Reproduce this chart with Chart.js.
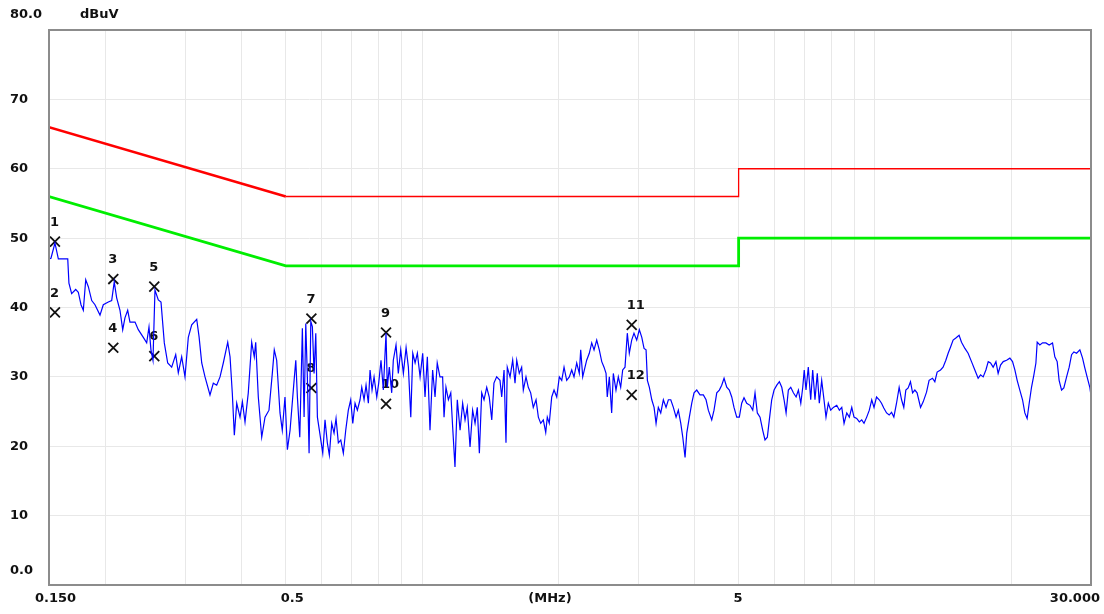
<!DOCTYPE html>
<html>
<head>
<meta charset="utf-8">
<title>Conducted emission 0.15-30 MHz</title>
<script src="https://cdn.jsdelivr.net/npm/chart.js@4/dist/chart.umd.min.js"></script>
<style>
  html, body { margin: 0; padding: 0; background: #fff; }
  #box { width: 1104px; height: 614px; position: relative; }
</style>
</head>
<body>
<div id="box"><canvas id="emission"></canvas></div>
<script>
// limit lines (QP red, AV green)
let limitMHz = [0.15, 0.5, 5, 5, 30];
let limitQpDb = [66, 56, 56, 60, 60];
let limitAvDb = [56, 46, 46, 50, 50];

// marked peaks
let markerNo = [1, 2, 3, 4, 5, 6, 7, 8, 9, 10, 11, 12];
let markerMHz = [0.1546, 0.1546, 0.208, 0.208, 0.2562, 0.2562, 0.5695, 0.5695, 0.8324, 0.8324, 2.903, 2.903];
let markerDb = [49.5, 39.3, 44.1, 34.2, 43.0, 33.0, 38.4, 28.4, 36.4, 26.1, 37.5, 27.4];

// axes
let gridMHz = [0.15, 0.2, 0.3, 0.4, 0.5, 0.6, 0.7, 0.8, 0.9, 1, 2, 3, 4, 5, 6, 7, 8, 9, 10, 20, 30];
let yTicks = [0, 10, 20, 30, 40, 50, 60, 70, 80];
let yTickLabels = ["0.0", "10", "20", "30", "40", "50", "60", "70", "80.0"];
let xTickValues = [0.15, 0.5, 1.9, 5, 30];
let xTickLabels = ["0.150", "0.5", "(MHz)", "5", "30.000"];

// sweep
let traceMHz = [
  0.150, 0.1515, 0.1546, 0.1573, 0.165, 0.166, 0.1683, 0.1718, 0.1741, 0.1765,
  0.1786, 0.1808, 0.1832, 0.1864, 0.1895, 0.1944, 0.1977, 0.2028, 0.2063, 0.209,
  0.2116, 0.2152, 0.2182, 0.2207, 0.2238, 0.2264, 0.2323, 0.2362, 0.2423, 0.2465,
  0.2494, 0.2519, 0.2545, 0.2571, 0.2615, 0.2651, 0.2696, 0.2743, 0.2799, 0.2857,
  0.2895, 0.2945, 0.2995, 0.3046, 0.3099, 0.3179, 0.3217, 0.3261, 0.3316, 0.3401,
  0.3459, 0.3519, 0.3579, 0.3639, 0.3722, 0.3766, 0.381, 0.3849, 0.3896, 0.3962,
  0.401, 0.4064, 0.4132, 0.4204, 0.426, 0.4291, 0.4348, 0.4424, 0.4499, 0.4591,
  0.4669, 0.4716, 0.4774, 0.4855, 0.4912, 0.498, 0.5041, 0.511, 0.5216, 0.5261,
  0.5304, 0.5369, 0.544, 0.5488, 0.5535, 0.558, 0.5629, 0.5678, 0.5724, 0.5774,
  0.5824, 0.5872, 0.5944, 0.6034, 0.6104, 0.6176, 0.624, 0.6316, 0.6391, 0.6456,
  0.6532, 0.6613, 0.67, 0.6782, 0.6872, 0.6956, 0.7029, 0.7111, 0.7195, 0.7294,
  0.7358, 0.7445, 0.752, 0.7609, 0.7675, 0.7753, 0.7833, 0.7941, 0.802, 0.8114,
  0.821, 0.8324, 0.8379, 0.8464, 0.8568, 0.8638, 0.8758, 0.8861, 0.897, 0.9092,
  0.9218, 0.9326, 0.9441, 0.9537, 0.965, 0.9762, 0.9898, 1.003, 1.015, 1.027,
  1.041, 1.055, 1.068, 1.080, 1.095, 1.110, 1.118, 1.129, 1.143, 1.157,
  1.168, 1.182, 1.196, 1.213, 1.229, 1.244, 1.258, 1.276, 1.293, 1.309,
  1.324, 1.338, 1.354, 1.370, 1.389, 1.407, 1.425, 1.441, 1.461, 1.486,
  1.499, 1.517, 1.532, 1.542, 1.564, 1.585, 1.604, 1.618, 1.639, 1.659,
  1.673, 1.696, 1.716, 1.737, 1.760, 1.785, 1.806, 1.828, 1.852, 1.875,
  1.890, 1.909, 1.933, 1.956, 1.983, 2.009, 2.034, 2.058, 2.086, 2.114,
  2.140, 2.165, 2.195, 2.224, 2.240, 2.263, 2.309, 2.340, 2.369, 2.397,
  2.430, 2.462, 2.493, 2.522, 2.548, 2.564, 2.591, 2.622, 2.644, 2.680,
  2.712, 2.745, 2.773, 2.806, 2.839, 2.868, 2.903, 2.937, 2.978, 3.018,
  3.056, 3.091, 3.123, 3.144, 3.176, 3.215, 3.253, 3.286, 3.324, 3.365,
  3.410, 3.457, 3.498, 3.541, 3.588, 3.638, 3.680, 3.726, 3.764, 3.808,
  3.841, 3.892, 3.940, 3.986, 4.041, 4.109, 4.179, 4.237, 4.286, 4.361,
  4.412, 4.474, 4.533, 4.588, 4.643, 4.707, 4.769, 4.828, 4.884, 4.952,
  5.018, 5.079, 5.139, 5.210, 5.299, 5.372, 5.435, 5.499, 5.575, 5.652,
  5.718, 5.786, 5.845, 5.916, 5.988, 6.071, 6.151, 6.227, 6.300, 6.365,
  6.439, 6.518, 6.605, 6.697, 6.776, 6.859, 6.928, 6.980, 7.043, 7.126,
  7.214, 7.287, 7.372, 7.459, 7.536, 7.628, 7.718, 7.797, 7.889, 7.986,
  8.094, 8.235, 8.345, 8.448, 8.547, 8.665, 8.780, 8.888, 8.990, 9.115,
  9.237, 9.350, 9.460, 9.590, 9.718, 9.838, 9.953, 10.08, 10.22, 10.34,
  10.46, 10.61, 10.75, 10.88, 11.01, 11.16, 11.31, 11.45, 11.58, 11.70,
  11.84, 11.98, 12.11, 12.25, 12.39, 12.61, 12.78, 13.00, 13.17, 13.40,
  13.56, 13.72, 13.96, 14.14, 14.34, 14.51, 14.69, 14.88, 15.09, 15.34,
  15.53, 15.80, 16.06, 16.34, 16.62, 16.90, 17.11, 17.34, 17.58, 17.79,
  18.00, 18.24, 18.50, 18.71, 18.94, 19.20, 19.53, 19.86, 20.13, 20.37,
  20.61, 20.89, 21.18, 21.43, 21.68, 21.91, 22.17, 22.44, 22.67, 22.82,
  23.13, 23.45, 23.85, 24.25, 24.67, 24.96, 25.26, 25.51, 25.83, 26.13,
  26.50, 26.85, 27.18, 27.50, 27.88, 28.35, 28.74, 29.07, 29.41, 29.82,
  30.00
];
let traceDb = [
  47.0, 47.1, 49.3, 47.0, 47.0, 43.5, 42.0, 42.6, 42.2, 40.4,
  39.6, 44.0, 43.0, 41.0, 40.4, 38.9, 40.4, 40.8, 41.0, 43.7,
  41.4, 39.6, 36.8, 38.5, 39.6, 37.9, 37.9, 36.8, 35.7, 34.9,
  37.2, 33.9, 32.4, 42.5, 41.1, 40.8, 34.9, 32.0, 31.4, 33.2,
  30.6, 32.9, 30.0, 35.7, 37.5, 38.3, 35.8, 32.0, 30.0, 27.4,
  29.1, 28.8, 30.0, 32.0, 35.0, 32.9, 27.6, 21.6, 26.2, 24.2,
  26.4, 23.5, 27.7, 35.0, 32.9, 35.0, 27.1, 21.3, 24.2, 25.2,
  30.5, 33.9, 32.4, 24.8, 22.3, 27.1, 19.5, 22.3, 29.5, 32.4,
  27.1, 21.3, 37.0, 24.2, 37.7, 30.0, 19.0, 38.0, 37.2, 30.5,
  36.3, 24.2, 21.9, 19.0, 23.8, 20.5, 18.7, 23.3, 21.9, 24.0,
  20.5, 20.9, 19.0, 22.3, 25.2, 26.7, 23.3, 26.2, 25.2, 26.7,
  28.5, 26.7, 28.8, 26.2, 31.0, 28.1, 30.0, 27.1, 29.1, 32.4,
  28.1, 36.3, 28.5, 31.4, 27.7, 32.4, 34.6, 30.5, 33.9, 30.5,
  34.2, 31.4, 24.2, 33.4, 32.0, 33.4, 30.0, 33.4, 27.1, 32.9,
  22.3, 31.0, 27.1, 32.0, 30.0, 30.0, 24.2, 28.5, 26.7, 27.7,
  22.8, 17.0, 26.7, 22.3, 26.2, 23.8, 25.6, 19.9, 25.2, 23.3,
  25.6, 19.0, 27.7, 26.7, 28.5, 27.1, 23.8, 29.1, 30.0, 29.5,
  27.1, 31.0, 20.5, 31.4, 30.0, 32.4, 29.1, 32.4, 30.5, 31.4,
  28.1, 30.0, 28.5, 27.7, 25.6, 26.7, 24.2, 23.3, 23.8, 22.0,
  24.2, 23.3, 27.1, 28.1, 27.1, 30.0, 29.5, 31.4, 29.5, 30.0,
  31.0, 30.0, 32.0, 30.5, 33.9, 30.0, 32.4, 33.4, 34.9, 33.9,
  35.3, 33.9, 32.2, 31.4, 30.5, 27.1, 30.0, 24.8, 30.5, 28.1,
  30.0, 28.5, 31.0, 31.4, 36.3, 33.4, 35.3, 36.3, 35.3, 36.8,
  35.7, 34.1, 33.9, 29.5, 28.5, 26.7, 25.6, 23.3, 25.6, 24.8,
  26.7, 25.6, 26.7, 26.7, 25.6, 24.2, 25.2, 23.3, 21.3, 18.4,
  21.9, 24.2, 26.2, 27.7, 28.1, 27.4, 27.4, 26.7, 25.2, 23.8,
  25.2, 27.7, 28.1, 28.8, 29.8, 28.5, 28.1, 27.1, 25.6, 24.2,
  24.2, 26.2, 27.0, 26.2, 25.9, 25.2, 27.7, 24.8, 24.2, 22.3,
  20.9, 21.3, 23.8, 26.7, 28.1, 28.8, 29.3, 28.5, 26.7, 24.8,
  28.1, 28.5, 27.7, 27.1, 28.1, 26.2, 28.5, 31.0, 28.1, 31.4,
  26.7, 31.0, 26.7, 30.5, 26.2, 29.5, 26.7, 24.2, 26.2, 25.2,
  25.6, 25.9, 25.2, 25.6, 23.3, 24.8, 24.2, 25.6, 24.2, 24.0,
  23.5, 23.8, 23.3, 24.2, 25.2, 26.7, 25.6, 27.1, 26.7, 26.2,
  25.5, 24.8, 24.5, 24.9, 24.2, 26.2, 28.5, 26.7, 25.6, 28.1,
  28.4, 29.3, 27.7, 28.1, 27.7, 25.6, 26.4, 27.8, 29.5, 29.8,
  29.3, 30.7, 31.0, 31.4, 32.4, 33.4, 34.3, 35.3, 35.6, 36.0,
  35.0, 34.1, 33.4, 32.2, 31.0, 29.8, 30.3, 30.0, 31.0, 32.2,
  32.0, 31.4, 32.2, 30.5, 31.7, 32.2, 32.4, 32.7, 32.2, 31.0,
  29.5, 28.1, 26.7, 24.8, 24.0, 26.2, 28.5, 30.3, 32.0, 35.0,
  34.6, 34.9, 34.9, 34.6, 34.9, 32.9, 32.2, 29.5, 28.1, 28.4,
  30.0, 31.4, 33.2, 33.6, 33.4, 33.9, 32.7, 31.3, 30.0, 28.5,
  27.3
];

function pairs(xs, ys) {
  return xs.map((x, i) => ({ x: x, y: ys[i] }));
}

const FONT = "bold 13px 'DejaVu Sans'";
const INK = "#111";

let emiText = {
  id: "emiText",
  // peak numbers go under the trace
  beforeDatasetsDraw(chart) {
    let ctx = chart.ctx;
    let sx = chart.scales.x;
    let sy = chart.scales.y;
    ctx.save();
    ctx.font = FONT;
    ctx.fillStyle = INK;
    ctx.textAlign = "left";
    ctx.textBaseline = "middle";
    markerNo.forEach((n, i) => {
      ctx.fillText(String(n), sx.getPixelForValue(markerMHz[i]) - 5, sy.getPixelForValue(markerDb[i]) - 19);
    });
    ctx.restore();
  },
  afterDraw(chart) {
    let ctx = chart.ctx;
    let a = chart.chartArea;
    let sx = chart.scales.x;
    let sy = chart.scales.y;
    ctx.save();
    ctx.strokeStyle = "#8c8c8c";
    ctx.lineWidth = 2;
    ctx.strokeRect(a.left, a.top, a.right - a.left, a.bottom - a.top);

    ctx.font = FONT;
    ctx.fillStyle = INK;
    ctx.textBaseline = "middle";
    ctx.textAlign = "left";
    yTicks.forEach((v, i) => {
      let py = sy.getPixelForValue(v);
      if (v === 80) py -= 15;
      if (v === 0) py -= 14;
      ctx.fillText(yTickLabels[i], 10, py);
    });
    ctx.fillText("dBuV", 80, a.top - 15);

    let ly = a.bottom + 14;
    xTickValues.forEach((v, i) => {
      let px = sx.getPixelForValue(v);
      let txt = xTickLabels[i];
      if (i === 0) {
        ctx.textAlign = "left";
        ctx.fillText(txt, px - 14, ly);
      } else if (i === xTickValues.length - 1) {
        ctx.textAlign = "right";
        ctx.fillText(txt, px + 9, ly);
      } else if (txt === "(MHz)") {
        ctx.textAlign = "left";
        ctx.fillText(txt, px - 20, ly);
      } else {
        ctx.textAlign = "left";
        ctx.fillText(txt, px - 5, ly);
      }
    });
    ctx.restore();
  },
};

// sloped part of the QP limit is drawn heavier than the flat parts
function qpWidth(c) {
  return c.p0.parsed.y !== c.p1.parsed.y && c.p0.parsed.x !== c.p1.parsed.x ? 2.6 : 1.3;
}

let ctx = document.getElementById("emission").getContext("2d");
let emissionChart = new Chart(ctx, {
  type: "line",
  data: {
    datasets: [
      {
        label: "Peak",
        data: pairs(traceMHz, traceDb),
        borderColor: "#0000ff",
        borderWidth: 1.2,
        pointRadius: 0,
        tension: 0,
        order: 1,
      },
      {
        label: "Limit QP",
        data: pairs(limitMHz, limitQpDb),
        borderColor: "#ff0000",
        borderWidth: 1.3,
        segment: { borderWidth: qpWidth },
        pointRadius: 0,
        tension: 0,
        order: 2,
      },
      {
        label: "Limit AV",
        data: pairs(limitMHz, limitAvDb),
        borderColor: "#00ee00",
        borderWidth: 2.8,
        pointRadius: 0,
        tension: 0,
        order: 3,
      },
      {
        type: "scatter",
        label: "Markers",
        data: pairs(markerMHz, markerDb),
        pointStyle: "crossRot",
        pointRadius: 7,
        borderColor: "#111",
        borderWidth: 1.8,
        showLine: false,
        order: 4,
      },
    ],
  },
  options: {
    responsive: true,
    maintainAspectRatio: false,
    animation: false,
    devicePixelRatio: 1,
    layout: { padding: { left: 49, top: 30, right: 13, bottom: 29 } },
    plugins: {
      legend: { display: false },
      tooltip: { enabled: false },
    },
    scales: {
      x: {
        type: "logarithmic",
        min: 0.15,
        max: 30,
        afterBuildTicks: (scale) => {
          scale.ticks = gridMHz.map((v) => ({ value: v }));
        },
        ticks: { display: false },
        grid: { color: "#e8e8e8", lineWidth: 1, drawTicks: false },
        border: { display: false },
      },
      y: {
        type: "linear",
        min: 0,
        max: 80,
        ticks: { display: false, stepSize: 10 },
        grid: { color: "#e8e8e8", lineWidth: 1, drawTicks: false },
        border: { display: false },
      },
    },
  },
  plugins: [emiText],
});
</script>
</body>
</html>
